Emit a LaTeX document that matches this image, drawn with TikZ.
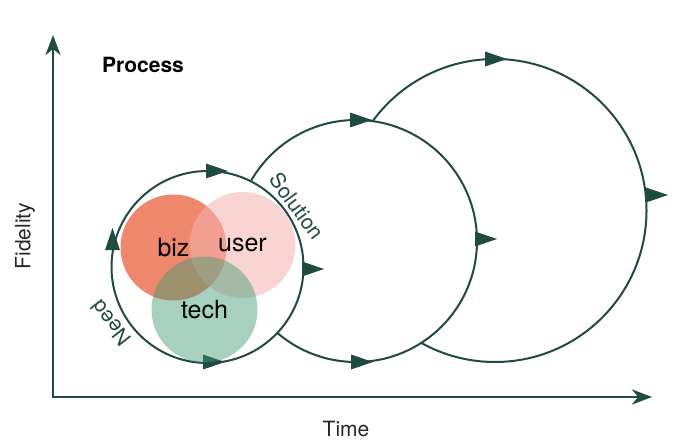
\documentclass[tikz,border=0pt]{standalone}
\usepackage{fontspec}
\setmainfont{TeX Gyre Heros}
\usetikzlibrary{arrows.meta,positioning}
\definecolor{pine}{HTML}{1F4B40}
\definecolor{bizc}{HTML}{EE876B}
\definecolor{userc}{HTML}{F4B4AF}
\definecolor{techc}{HTML}{3C9B71}
\tikzset{>/.tip={Stealth[length=20pt,width=15pt,inset=6pt]}}
\tikzset{axis/.style={draw=pine,line width=2.5pt}}
\tikzset{ring/.style={circle,draw=pine,line width=2pt,fill=white,inner sep=0pt}}
\tikzset{venn/.style={circle,inner sep=0pt,minimum size=106pt}}
\tikzset{flow/.pic={\fill[pine] (-11,-7.5) -- (11,0) -- (-11,7.5) -- cycle;}}
\tikzset{tag/.style={font=\fontsize{25}{30}\selectfont}}
\tikzset{axlabel/.style={font=\fontsize{21}{25}\selectfont,text=black!85}}
\tikzset{arcname/.style={text=pine,font=\fontsize{21}{25}\selectfont,inner sep=1pt}}

\begin{document}
\begin{tikzpicture}[x=1pt,y=-1pt]
      \fill[white] (0,0) rectangle (676,446);
      \useasboundingbox (0,0) rectangle (676,446);

      \coordinate (O) at (53,397);
      \coordinate (ytop) at (53,35);
      \coordinate (xend) at (652,397);
      \draw[axis,<->] (ytop) -- (O) -- (xend);

      \node[ring,minimum size=303pt] (late) at (495,210.5) {};
      \node[ring,minimum size=242pt] (mid) at (356,241) {};
      \node[ring,minimum size=192pt] (early) at (207.5,267) {};

      \pic at (496,59) {flow};
      \pic at (657,195) {flow};
      \pic at (361,120) {flow};
      \pic at (486,239) {flow};
      \pic at (362,362) {flow};
      \pic at (217,171) {flow};
      \pic at (313,269) {flow};
      \pic at (214,362) {flow};
      \pic[rotate=90] at (112.5,239) {flow};

      \node[venn,fill=bizc] (biz) at (173.5,247.5) {};
      \node[venn,fill=userc,fill opacity=0.55] (user) at (242.5,245) {};
      \node[venn,fill=techc,fill opacity=0.45] (tech) at (204.5,309.5) {};
      \node[tag] (bizname) at (biz) {biz};
      \node[tag] (username) at (user) {user};
      \node[tag] (techname) at (tech) {tech};

      \node[arcname,rotate=-54] (solution) at (297,206) {Solution};
      \node[arcname,rotate=128] (need) at (111,323) {Need};

      \node[font=\fontsize{21}{25}\selectfont\bfseries] (process) at (143,65) {Process};
      \node[axlabel,rotate=90] (fidelity) at (25,236) {Fidelity};
      \node[axlabel] (time) at (346,429) {Time};
    \end{tikzpicture}
\end{document}
